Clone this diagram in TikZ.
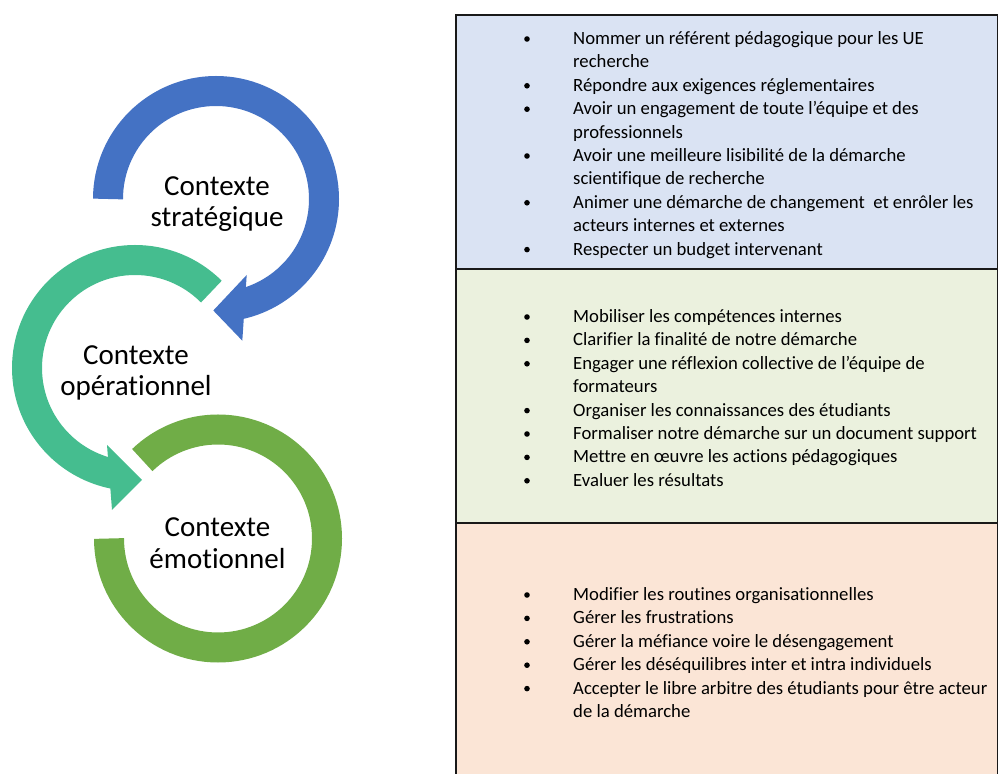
\documentclass[tikz,border=0pt]{standalone}
\usepackage{fontspec}
\setmainfont{Carlito}[Ligatures=CommonOff]
\usetikzlibrary{calc}
\definecolor{cblue}{HTML}{4472C4}
\definecolor{cteal}{HTML}{45BD8F}
\definecolor{cgreen}{HTML}{70AD47}
\definecolor{fblue}{HTML}{DAE3F3}
\definecolor{fgreen}{HTML}{EBF1DE}
\definecolor{forange}{HTML}{FBE5D6}
\begin{document}
\begin{tikzpicture}[x=1pt,y=1pt,
  ring/.style={line width=30pt},
  frame/.style={line width=1.5pt, draw=black!90},
  itemtext/.style={anchor=base west, inner sep=0pt, font=\fontsize{18.7}{22}\selectfont},
  bul/.style={circle, fill=black, inner sep=0pt, minimum size=5.6pt},
  ctx/.style={align=center, inner sep=0pt, font=\fontsize{29}{31.5}\selectfont}]
\useasboundingbox (0,0) rectangle (999,774);

% ---- right-hand table ----
\fill[fblue]   (456,759) rectangle (998,505);
\fill[fgreen]  (456,505) rectangle (998,251);
\fill[forange] (456,251) rectangle (998,-5);
\draw[frame] (456,-5) -- (456,759) -- (997.5,759) -- (997.5,-5);
\draw[frame] (456,505) -- (997.5,505);
\draw[frame] (456,251) -- (997.5,251);

\foreach \y/\t/\b [count=\i] in {
  729.5/Nommer un référent pédagogique pour les UE/1,
  706.1/recherche/0,
  682.7/Répondre aux exigences réglementaires/1,
  659.3/Avoir un engagement de toute l’équipe et des/1,
  635.9/professionnels/0,
  612.5/Avoir une meilleure lisibilité de la démarche/1,
  589.1/scientifique de recherche/0,
  565.7/Animer une démarche de changement\ \ et enrôler les/1,
  542.3/acteurs internes et externes/0,
  518.9/Respecter un budget intervenant/1,
  451.5/Mobiliser les compétences internes/1,
  428.1/Clarifier la finalité de notre démarche/1,
  404.7/Engager une réflexion collective de l’équipe de/1,
  381.3/formateurs/0,
  357.9/Organiser les connaissances des étudiants/1,
  334.5/Formaliser notre démarche sur un document support/1,
  311.1/Mettre en œuvre les actions pédagogiques/1,
  287.7/Evaluer les résultats/1,
  173.5/Modifier les routines organisationnelles/1,
  150.1/Gérer les frustrations/1,
  126.7/Gérer la méfiance voire le désengagement/1,
  103.3/Gérer les déséquilibres inter et intra individuels/1,
  79.9/Accepter le libre arbitre des étudiants pour être acteur/1,
  56.5/de la démarche/0}
{
  \node[itemtext] (ln\i) at (573,\y) {\t};
  \ifnum\b=1 \node[bul] (bt\i) at (527,\y+5.5) {};\fi
}

% ---- left-hand circular arrows ----
\coordinate (cb) at (216,575);
\coordinate (cg) at (135,406);
\coordinate (ce) at (218,235.5);

\draw[ring, cgreen] ($(ce)+(-180:109)$) arc[start angle=-180, end angle=134, radius=109];

\draw[ring, cteal] ($(cg)+(45:108)$) arc[start angle=45, end angle=259, radius=108];
\fill[cteal] (107,329) -- (112,264) -- (142,294) -- cycle;

\draw[ring, cblue] ($(cb)+(180:108)$) arc[start angle=180, end angle=-78, radius=108];
\fill[cblue] (246.7,499) -- (242.3,433.3) -- (213.3,463.5) -- cycle;

\node[ctx] (strat) at (217,570) {Contexte\\stratégique};
\node[ctx] (oper)  at (136,401) {Contexte\\opérationnel};
\node[ctx] (emot)  at (217.5,230.7) {Contexte\\émotionnel};
\end{tikzpicture}
\end{document}
